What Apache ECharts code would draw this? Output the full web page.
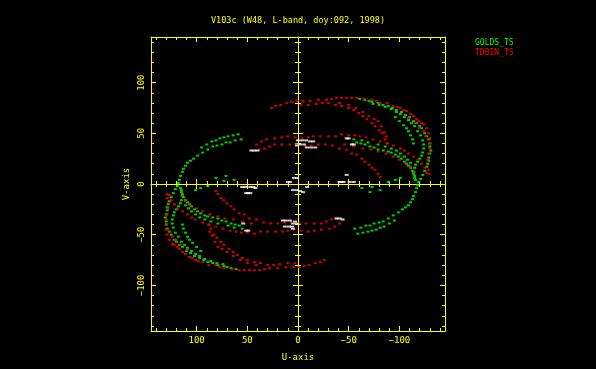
<!DOCTYPE html>
<html><head><meta charset="utf-8">
<script src="https://cdn.jsdelivr.net/npm/echarts@6/dist/echarts.min.js"></script>
<style>html,body{margin:0;padding:0;background:#000;}#c{width:596px;height:369px;}</style>
</head><body><div id="c"></div>
<script>
// ---------- text ----------
const titleText = 'V103c (W48, L-band, doy:092, 1998)';
const seriesNames = ['GOLDS_TS', 'TDBIN_TS'];
const xName = 'U-axis';
const yName = 'V-axis';
const majorTicks = [-100, -50, 0, 50, 100];
const minorTicks = [-140,-130,-120,-110,-100,-90,-80,-70,-60,-50,-40,-30,-20,-10,0,10,20,30,40,50,60,70,80,90,100,110,120,130,140];
const axisRange = [-145, 145];

// ---------- GOLDS_TS tracks (u, v); the conjugate (-u,-v) points are also plotted ----------
const gOuter1 = [[-61,84],[-66,83],[-70,82],[-73,81],[-79,80],[-84,78],[-89,77],[-93,75],[-97,73],[-102,71],[-106,68],[-110,66],[-114,62],[-117,60],[-120,57],[-122,55],[-125,50],[-127,47],[-129,44],[-130,40],[-130,37],[-131,33],[-130,30],[-129,26],[-129,23],[-128,20],[-127,17],[-125,13],[-123,9],[-121,5],[-119,2]];
const gOuter2 = [[-74,79],[-80,78],[-86,76],[-92,74],[-97,71],[-101,69],[-105,66],[-109,63],[-112,60],[-115,57],[-118,52],[-121,48],[-123,43],[-124,39],[-124,35],[-123,31],[-122,28],[-120,25],[-118,22],[-116,19],[-115,16],[-114,12],[-115,8],[-116,4]];
const gOuter3 = [[-96,66],[-100,62],[-104,58],[-107,55],[-109,52],[-111,48],[-113,44],[-114,40]];
const gLow = [[-118,-1],[-117,-4],[-116,-8],[-114,-12],[-113,-15],[-111,-18],[-109,-21],[-106,-23],[-103,-25],[-99,-28],[-94,-31],[-89,-34],[-84,-37],[-80,-38],[-75,-39],[-71,-41],[-67,-41],[-62,-43],[-56,-44]];
const gLow2 = [[-59,-49],[-64,-48],[-69,-47],[-73,-46],[-77,-45],[-81,-43],[-85,-42],[-90,-39],[-95,-36]];
const gInner = [[-55,44],[-58,41],[-62,40],[-66,39],[-71,37],[-75,36],[-79,34],[-84,33],[-89,32],[-92,31],[-96,29],[-99,27],[-102,25],[-105,22],[-107,20],[-109,18],[-111,16],[-113,13],[-114,10],[-115,6]];
const gInner2 = [[-63,43],[-69,41],[-79,39],[-86,37],[-92,35],[-97,33],[-101,30],[-105,27],[-108,24],[-111,21]];
const gAxis = [[-63,-4],[-71,-8],[-73,-3],[-81,-6],[-89,2],[-96,4],[-101,6]];

// ---------- TDBIN_TS tracks ----------
const rOuter = [[26,75],[22,77],[17,78],[11,80],[6,81],[1,82],[-5,82],[-12,82],[-20,83],[-28,83],[-33,84],[-38,85],[-43,85],[-48,85],[-53,85],[-58,85],[-65,84],[-73,83],[-77,82],[-81,80],[-88,80],[-94,77],[-98,76],[-101,75],[-104,73],[-107,72],[-111,69],[-114,67],[-117,64],[-119,62],[-122,60],[-124,59],[-127,55],[-129,50],[-130,45],[-130,40],[-130,35],[-129,30],[-128,24],[-128,19],[-129,14],[-129,10]];
const rOuter2 = [[-109,65],[-116,60],[-120,55],[-124,52],[-126,47]];
const rArc = [[-3,78],[-10,78],[-18,79],[-24,80],[-30,80],[-37,78],[-43,77],[-50,75],[-55,73],[-60,70],[-64,67],[-68,64],[-73,60],[-76,57],[-80,53],[-83,50],[-86,44],[-88,40]];
const rArc2 = [[-41,80],[-50,78],[-57,75],[-64,71],[-70,67],[-75,64],[-79,62],[-82,57],[-85,51],[-87,47]];
const rMidA = [[41,39],[36,42],[31,44],[23,45],[16,46],[10,47],[3,46],[-4,45],[-10,46],[-15,47],[-22,47],[-30,47],[-37,47],[-43,49],[-50,48],[-56,48],[-61,47],[-67,46],[-74,44],[-81,42],[-88,40],[-94,38],[-101,35],[-105,33],[-109,30],[-114,27],[-119,24],[-122,20],[-125,16],[-127,11]];
const rMidB = [[38,34],[33,35],[28,37],[23,39],[16,39],[8,39],[2,39],[-7,37],[-13,38],[-20,39],[-27,39],[-34,38],[-41,35],[-48,34],[-53,30],[-58,29],[-63,25],[-66,22],[-70,19],[-73,16],[-76,14],[-79,10],[-81,7]];
const rMidC = [[-46,39],[-55,37],[-64,35],[-72,34],[-79,32],[-87,30],[-94,27],[-100,24],[-106,21],[-111,17],[-115,12]];

// ---------- other (white) baselines, all read ----------
const whitePts = [[46,33],[43,33],[40,33],[-38,-34],[-41,-34],[-44,-35],
  [0,43],[-4,43],[-8,43],[-12,42],[-15,42],[-2,39],[-6,39],[-9,36],[-13,36],[-17,36],[1,38],
  [15,-36],[12,-36],[8,-36],[3,-37],[13,-42],[9,-42],[6,-42],[5,-44],[1,-39],[5,-39],
  [-48,45],[-50,45],[-53,39],[-55,39],[54,-39],[49,-46],[51,-46],
  [10,2],[8,2],[1,6],[4,6],[-48,9],[-41,2],[-43,2],[-45,2],[-51,2],[-55,2],
  [5,-6],[1,-6],[-2,-7],[-5,-8],[-9,-3],[52,-3],[55,-3],[47,-3],[44,-3],[42,-4],[49,-9],[51,-9],[47,-9]];

const withConj = tracks => tracks.flatMap(t => t.concat(t.map(p => [-p[0], -p[1]])));
const greenData = withConj([gOuter1, gOuter2, gOuter3, gLow, gLow2, gInner, gInner2, gAxis]);
const redData = withConj([rOuter, rOuter2, rArc, rArc2, rMidA, rMidB, rMidC]);

const YEL = '#ffff00';
const FONT = 'DejaVu Sans Mono';
const fmt = v => v < 0 ? '\u2212' + (-v) : String(v);

function ax(dim, o) {
  const a = {
    type: 'value', gridIndex: 0, min: axisRange[0], max: axisRange[1],
    inverse: dim === 'x', position: o.pos,
    axisLine: { show: !!o.line, onZero: !!o.onZero, lineStyle: { color: YEL, width: 1 } },
    axisTick: { show: true, inside: o.inside, length: o.len, customValues: o.ticks, lineStyle: { color: YEL, width: 1 } },
    axisLabel: { show: false },
    splitLine: { show: false }
  };
  if (o.onZero) a.axisLine.onZeroAxisIndex = 0;
  if (o.labels) {
    a.axisLabel = { show: true, customValues: majorTicks, formatter: fmt, color: YEL, fontFamily: FONT, fontSize: 9, margin: 5, rotate: dim === 'y' ? 90 : 0 };
    a.name = dim === 'x' ? xName : yName;
    a.nameLocation = 'middle';
    a.nameGap = dim === 'x' ? 22 : 20;
    a.nameTextStyle = { color: YEL, fontFamily: FONT, fontSize: 9 };
  }
  return a;
}

const xAxes = [
  ax('x', { pos: 'bottom', line: true, inside: true, len: 3, ticks: minorTicks }),
  ax('x', { pos: 'bottom', inside: true, len: 5, ticks: majorTicks, labels: true }),
  ax('x', { pos: 'top', line: true, inside: true, len: 3, ticks: minorTicks }),
  ax('x', { pos: 'top', inside: true, len: 5, ticks: majorTicks }),
  ax('x', { pos: 'bottom', line: true, onZero: true, inside: true, len: 3, ticks: minorTicks }),
  ax('x', { pos: 'bottom', onZero: true, inside: false, len: 3, ticks: minorTicks }),
  ax('x', { pos: 'bottom', onZero: true, inside: true, len: 5, ticks: majorTicks }),
  ax('x', { pos: 'bottom', onZero: true, inside: false, len: 5, ticks: majorTicks })
];
const yAxes = [
  ax('y', { pos: 'left', line: true, inside: true, len: 3, ticks: minorTicks }),
  ax('y', { pos: 'left', inside: true, len: 5, ticks: majorTicks, labels: true }),
  ax('y', { pos: 'right', line: true, inside: true, len: 3, ticks: minorTicks }),
  ax('y', { pos: 'right', inside: true, len: 5, ticks: majorTicks }),
  ax('y', { pos: 'left', line: true, onZero: true, inside: true, len: 3, ticks: minorTicks }),
  ax('y', { pos: 'left', onZero: true, inside: false, len: 3, ticks: minorTicks }),
  ax('y', { pos: 'left', onZero: true, inside: true, len: 5, ticks: majorTicks }),
  ax('y', { pos: 'left', onZero: true, inside: false, len: 5, ticks: majorTicks })
];

const chart = echarts.init(document.getElementById('c'), null, { renderer: 'canvas' });
chart.setOption({
  backgroundColor: '#000',
  animation: false,
  title: { text: titleText, left: 'center', top: 11, textStyle: { color: YEL, fontFamily: FONT, fontSize: 8.5, fontWeight: 'normal' } },
  legend: {
    orient: 'vertical', left: 465, top: 33, itemWidth: 0, itemHeight: 0, itemGap: 0, selectedMode: false,
    textStyle: { fontFamily: FONT, fontSize: 8, lineHeight: 10 },
    data: [{ name: seriesNames[0], textStyle: { color: '#00ff00' } }, { name: seriesNames[1], textStyle: { color: '#ff0000' } }]
  },
  grid: { left: 151, top: 37, width: 294, height: 294, outerBoundsMode: 'none' },
  xAxis: xAxes,
  yAxis: yAxes,
  series: [
    { name: seriesNames[0], type: 'scatter', xAxisIndex: 0, yAxisIndex: 0, symbol: 'rect', symbolSize: [3, 2], itemStyle: { color: '#00ff00' }, data: greenData },
    { name: seriesNames[1], type: 'scatter', xAxisIndex: 0, yAxisIndex: 0, symbol: 'rect', symbolSize: [3, 2], itemStyle: { color: '#ff0000' }, data: redData },
    { name: 'other', type: 'scatter', xAxisIndex: 0, yAxisIndex: 0, symbol: 'rect', symbolSize: [4, 2], itemStyle: { color: '#ffffff' }, data: whitePts }
  ]
});
</script></body></html>
